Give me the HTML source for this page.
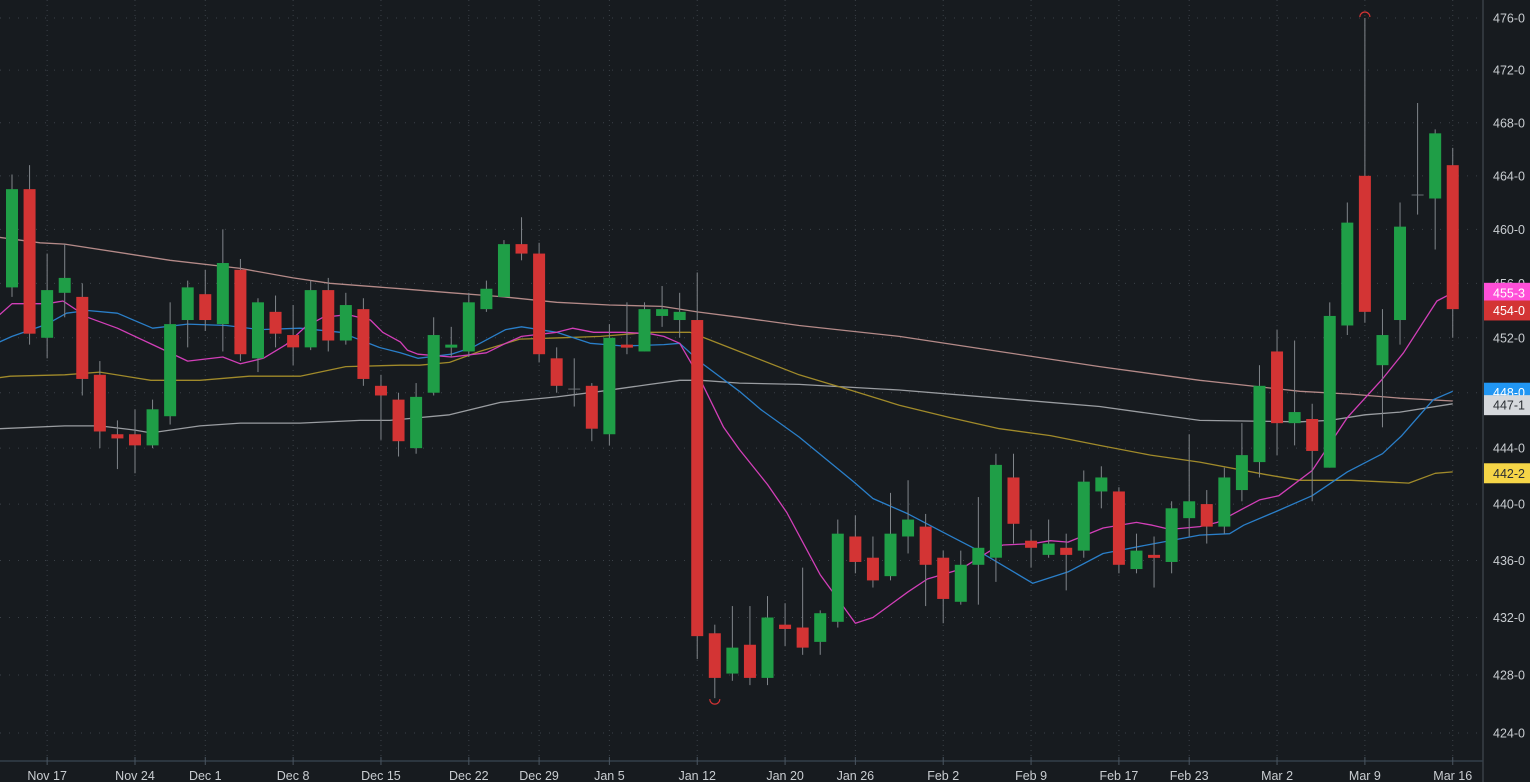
<!DOCTYPE html>
<html><head><meta charset="utf-8"><style>
html,body{margin:0;padding:0;background:#171b1f;}
svg{display:block;font-family:"Liberation Sans",sans-serif;}
</style></head><body>
<svg id="chart" width="1530" height="782" viewBox="0 0 1530 782" xmlns="http://www.w3.org/2000/svg">
<rect x="0" y="0" width="1530" height="782" fill="#171b1f"/>
<g id="grid"></g>
<g id="mas"></g>
<g id="candles"></g>
<g id="axes"></g>
</svg>
<script>
const opens  = [455.7,463.0,452.0,455.3,455.0,449.3,445.0,445.0,444.2,446.3,453.3,455.2,453.0,457.0,450.5,453.9,452.2,451.3,455.5,451.8,454.1,448.5,447.5,444.0,448.0,451.3,451.0,454.1,455.0,458.9,458.2,450.5,448.3,448.5,445.0,451.5,451.0,453.6,453.3,453.3,430.9,428.1,430.1,427.8,431.5,431.3,430.3,431.7,437.7,436.2,434.9,437.7,438.4,436.2,433.1,435.7,436.2,441.9,437.4,436.4,436.9,436.7,440.9,440.9,435.4,436.4,435.9,439.0,440.0,438.4,441.0,443.0,451.0,445.8,446.1,442.6,452.9,464.0,450.0,453.3,462.6,462.3,464.8];
const highs  = [464.1,464.8,458.2,458.9,456.0,450.3,446.0,446.8,447.5,454.6,456.2,457.0,460.0,457.8,454.9,455.1,454.4,456.2,456.4,455.3,454.9,449.3,448.0,448.7,453.5,452.8,455.3,456.2,459.2,460.9,459.0,451.3,450.5,448.7,453.0,454.6,454.6,455.8,455.3,456.8,431.5,432.8,432.8,433.5,433.0,435.5,432.5,438.9,439.2,437.7,440.8,441.7,439.3,436.7,436.7,440.5,443.6,443.6,438.2,438.9,437.9,442.4,442.7,441.2,437.9,437.7,440.2,445.0,441.0,442.6,445.8,450.0,452.6,451.8,447.2,454.6,462.0,476.0,454.1,462.0,469.5,467.5,466.1];
const lows   = [455.0,451.5,450.5,453.5,447.8,444.0,442.5,442.2,444.0,445.7,451.3,452.5,451.0,450.3,449.5,451.3,450.0,451.1,451.0,451.5,448.5,444.6,443.4,443.6,447.8,450.6,450.6,453.9,455.0,457.7,450.2,448.0,447.0,444.5,444.2,450.8,451.0,452.8,452.0,429.1,426.4,427.6,427.3,427.3,430.0,429.4,429.4,431.3,435.1,434.1,434.6,436.5,432.8,431.6,432.9,432.9,434.5,437.2,435.5,436.2,433.9,436.2,439.7,435.1,435.1,434.1,435.1,437.7,437.2,437.9,440.2,441.9,443.5,444.2,440.2,442.6,452.2,453.1,445.5,451.5,461.1,458.5,452.0];
const closes = [463.0,452.3,455.5,456.4,449.0,445.2,444.7,444.2,446.8,453.0,455.7,453.3,457.5,450.8,454.6,452.3,451.3,455.5,451.8,454.4,449.0,447.8,444.5,447.7,452.2,451.5,454.6,455.6,458.9,458.2,450.8,448.5,448.3,445.4,452.0,451.3,454.1,454.1,453.9,430.7,427.8,429.9,427.8,432.0,431.2,429.9,432.3,437.9,435.9,434.6,437.9,438.9,435.7,433.3,435.7,436.9,442.8,438.6,436.9,437.2,436.4,441.6,441.9,435.7,436.7,436.2,439.7,440.2,438.4,441.9,443.5,448.5,445.8,446.6,443.8,453.6,460.5,453.9,452.2,460.2,462.6,467.2,454.1];

const tickIdx = [2,7,11,16,21,26,30,34,39,44,48,53,58,63,67,72,77,82];
const tickLabels = ["Nov 17","Nov 24","Dec 1","Dec 8","Dec 15","Dec 22","Dec 29","Jan 5","Jan 12","Jan 20","Jan 26","Feb 2","Feb 9","Feb 17","Feb 23","Mar 2","Mar 9","Mar 16"];
const priceTicks = [476,472,468,464,460,456,452,448,444,440,436,432,428,424];

const maLongIdx = [-0.7,1.6,3,9,13,16,18.1,22.1,25,28,31,34,37,39,41.4,44.8,50.5,56.2,61.9,67.6,73.3,76.2,79,82];
const maLongVal = [459.4,459.0,458.9,457.7,457.1,456.4,456.0,455.6,455.3,455.0,454.6,454.4,454.3,453.9,453.5,452.9,452.1,451.0,449.9,448.9,448.1,447.9,447.6,447.4];
const maGrayIdx = [-0.7,3,5,7,7.9,10.7,13,16.4,19.8,21.5,24.9,27.8,31,33.5,36.3,38,39.2,41.4,44.8,50.5,56.2,61.9,67.6,73.3,75,77,79,82];
const maGrayVal = [445.4,445.6,445.6,445.3,445.1,445.6,445.8,445.8,446.0,446.0,446.4,447.3,447.7,448.1,448.6,448.9,448.9,448.7,448.6,448.2,447.6,447.0,446.0,445.9,446.0,446.4,446.6,447.2];
const maOliveIdx = [-0.7,-0.1,3,5,7.9,10.7,13.5,16.4,19,22.1,23.2,24.9,26.6,28.9,31.2,33.5,36.3,38,38.6,39.2,41.4,44.8,47.7,50.5,53.4,56.2,59.1,61.9,64.8,67.6,71.4,73.3,76.2,79.5,81,82];
const maOliveVal = [449.1,449.2,449.3,449.5,448.9,448.9,449.2,449.2,449.9,450.0,450.0,450.2,451.0,451.9,452.0,452.1,452.4,452.4,452.4,452.1,451.0,449.3,448.2,447.1,446.2,445.4,444.9,444.2,443.5,443.0,442.1,441.7,441.7,441.5,442.2,442.3];
const maBlueIdx = [-0.7,0,2,3.1,4.3,6,8,10,12.2,14.1,16.4,18.7,20.9,22.1,23.1,25,26.2,28.1,29,31,32.9,34.8,37.1,38,39.2,41.4,42.6,44.8,47.9,49,51,53,54.7,58.1,60.1,62.1,64.6,67.6,69.3,70.1,72,74,76,78,79.1,80.9,82];
const maBlueVal = [451.7,452.1,453.0,453.8,454.0,453.8,452.7,453.0,452.9,452.6,452.7,452.4,451.3,450.9,450.5,450.8,451.3,452.6,452.8,452.4,451.6,451.4,451.5,451.6,450.2,448.1,446.8,444.8,441.6,440.4,439.3,438.0,436.9,434.4,435.2,436.5,437.1,437.8,437.9,438.5,439.5,440.6,442.3,443.6,444.9,447.5,448.1];
const maPinkIdx = [-0.7,0,2,2.9,4.3,6,8,10,12,13,14.3,15.6,16.7,17.7,19.1,20.4,21.1,22.1,22.5,23.1,25,27,28.1,29,31,31.9,33.1,34.8,36.3,37.1,38,39,40.5,41.4,43,44.1,46,48,49,51,52.1,54,55.7,56.4,58.1,59.1,60.1,62.1,64,64.9,65.9,67.6,68.6,70.1,71,72.1,74,76,78,79.2,81.1,82];
const maPinkVal = [453.7,454.5,454.5,454.7,453.5,452.7,451.5,450.3,450.6,450.1,450.5,451.5,452.8,453.5,453.7,453.3,452.4,451.7,451.1,450.8,450.6,450.9,451.6,452.1,452.4,452.7,452.4,452.4,452.3,452.1,451.6,449.4,445.5,443.9,441.4,439.4,435.0,431.6,432.0,433.8,434.7,435.4,436.7,437.1,437.2,437.4,437.3,438.3,438.7,438.5,438.2,438.4,438.7,439.7,440.3,440.6,442.4,446.2,449.0,450.9,454.7,455.3];

const NS = "http://www.w3.org/2000/svg";
const X0 = 12, STEP = 17.57, TOPY = 18, LOGK = 6181, PTOP = 476;
function xs(i){ return X0 + i*STEP; }
function ys(v){ return TOPY + LOGK*Math.log(PTOP/v); }
function mk(tag, attrs, parent){ const e=document.createElementNS(NS,tag); for(const k in attrs) e.setAttribute(k,attrs[k]); parent.appendChild(e); return e; }

const grid = document.getElementById('grid');
const axes = document.getElementById('axes');
const mas = document.getElementById('mas');
const cg = document.getElementById('candles');

// horizontal grid
priceTicks.forEach(p=>{
  const l = mk('line',{x1:0,x2:1483,y1:ys(p),y2:ys(p),stroke:'#3b4148','stroke-width':1,'stroke-dasharray':'1 8'},grid);
  
  
});
// vertical grid
tickIdx.forEach(i=>{
  const l = mk('line',{x1:xs(i),x2:xs(i),y1:0,y2:761,stroke:'#3b4148','stroke-width':1,'stroke-dasharray':'1 4'},grid);
  
  
});

// moving averages
function drawMA(idx, val, color, name){
  const pts = idx.map((i,k)=>xs(i).toFixed(1)+','+ys(val[k]).toFixed(1)).join(' ');
  const p = mk('polyline',{points:pts,fill:'none',stroke:color,'stroke-width':1.3,'stroke-linejoin':'round'},mas);
  
  
}
drawMA(maLongIdx, maLongVal, '#b48a88', 'ma-long-line');
drawMA(maGrayIdx, maGrayVal, '#9a9da1', 'ma-gray-line');
drawMA(maOliveIdx, maOliveVal, '#a08a2a', 'ma-olive-line');
drawMA(maBlueIdx, maBlueVal, '#2a7fc9', 'ma-blue-line');
drawMA(maPinkIdx, maPinkVal, '#d23fb8', 'ma-pink-line');

// candles
opens.forEach((o,i)=>{
  const c = closes[i], h = highs[i], l = lows[i];
  const x = xs(i);
  const w = mk('line',{x1:x,x2:x,y1:ys(h),y2:ys(l),stroke:'#80858a','stroke-width':1},cg);
  
  
  const doji = Math.abs(o-c) < 0.05;
  const col = doji ? '#6a6f74' : (c>o ? '#1f9e47' : '#d33434');
  const top = ys(Math.max(o,c)), bot = ys(Math.min(o,c));
  const b = mk('rect',{x:x-6,y:top,width:12,height:Math.max(bot-top,doji?1:3),fill:col},cg);
  
  
});
// high/low markers
(function(){
  let hi=0, lo=0;
  highs.forEach((v,i)=>{ if(v>highs[hi]) hi=i; });
  lows.forEach((v,i)=>{ if(v<lows[lo]) lo=i; });
  const hx=xs(hi), hy=ys(highs[hi])-1, lx=xs(lo), ly=ys(lows[lo])+1;
  const a1 = mk('path',{d:`M${hx-5},${hy} A5,5 0 0 1 ${hx+5},${hy}`,fill:'none',stroke:'#d33434','stroke-width':1.2},cg);
  
  
  const a2 = mk('path',{d:`M${lx-5},${ly} A5,5 0 0 0 ${lx+5},${ly}`,fill:'none',stroke:'#d33434','stroke-width':1.2},cg);
  
  
})();

// axes
const ax = mk('line',{x1:1483,x2:1483,y1:0,y2:782,stroke:'#4a5158','stroke-width':1},axes);


const bx = mk('line',{x1:0,x2:1483,y1:761,y2:761,stroke:'#34404a','stroke-width':1.5},axes);


priceTicks.forEach(p=>{
  const t = mk('text',{x:1493,y:ys(p)+4.5,fill:'#c9cdd1','font-size':12.5},axes);
  t.textContent = p + '-0';
  
  
});
tickIdx.forEach((i,k)=>{
  const tk = mk('line',{x1:xs(i),x2:xs(i),y1:757,y2:765,stroke:'#4a5560','stroke-width':1},axes);
  
  
  const t = mk('text',{x:xs(i),y:780,fill:'#c9cdd1','font-size':12.5,'text-anchor':'middle'},axes);
  t.textContent = tickLabels[k];
  
  
});

// price tags
function tag(val, txt, bg, fg, name){
  const y = ys(val);
  const r = mk('rect',{x:1484,y:y-10,width:46,height:20,fill:bg},axes);
  
  
  const t = mk('text',{x:1493,y:y+4.5,fill:fg,'font-size':12.5},axes);
  t.textContent = txt;
  
  
}
tag(448.0,'448-0','#2196f3','#ffffff','blue-ma-tag');
tag(447.1,'447-1','#d5d8dc','#2a2e33','gray-ma-tag');
tag(455.3,'455-3','#ff4fd8','#ffffff','pink-ma-tag');
tag(454.0,'454-0','#d33434','#ffffff','last-price-tag');
tag(442.2,'442-2','#f5d547','#2a2e33','olive-ma-tag');
</script>
</body></html>
